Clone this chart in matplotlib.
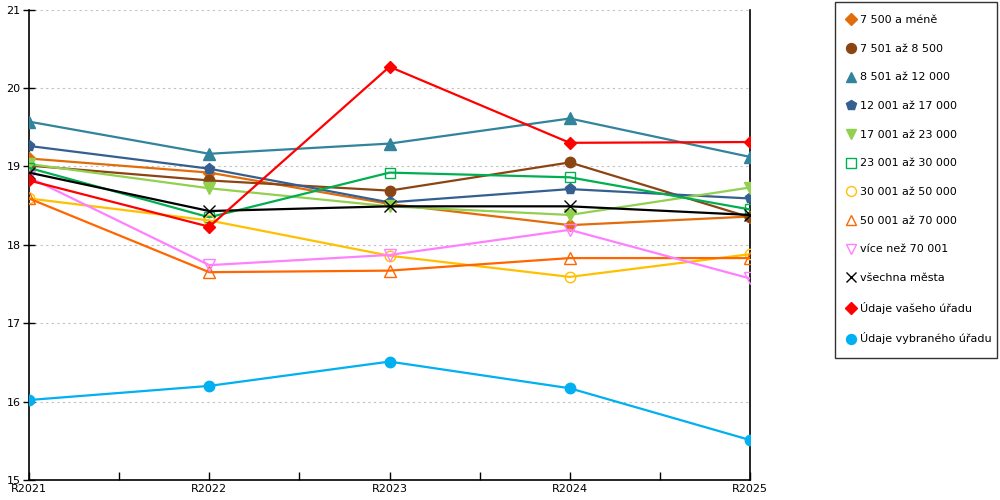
import matplotlib
matplotlib.use("Agg")
import matplotlib.pyplot as plt
from matplotlib.lines import Line2D
from matplotlib.ticker import MultipleLocator

years = ["R2021", "R2022", "R2023", "R2024", "R2025"]

labels = ["7 500 a méně", "7 501 až 8 500", "8 501 až 12 000", "12 001 až 17 000",
          "17 001 až 23 000", "23 001 až 30 000", "30 001 až 50 000", "50 001 až 70 000",
          "více než 70 001", "všechna města", "Údaje vašeho úřadu", "Údaje vybraného úřadu"]

s_7500 = [19.10, 18.92, 18.52, 18.25, 18.36]
s_8500 = [19.01, 18.82, 18.69, 19.05, 18.35]
s_12000 = [19.57, 19.16, 19.29, 19.61, 19.12]
s_17000 = [19.26, 18.97, 18.54, 18.71, 18.59]
s_23000 = [19.03, 18.72, 18.49, 18.38, 18.73]
s_30000 = [18.98, 18.35, 18.92, 18.86, 18.45]
s_50000 = [18.59, 18.31, 17.86, 17.59, 17.88]
s_70000 = [18.59, 17.65, 17.67, 17.83, 17.83]
s_over = [18.86, 17.74, 17.87, 18.19, 17.57]
s_all = [18.92, 18.43, 18.49, 18.49, 18.38]
s_yours = [18.82, 18.23, 20.27, 19.30, 19.31]
s_chosen = [16.02, 16.20, 16.51, 16.17, 15.51]

series = [s_7500, s_8500, s_12000, s_17000, s_23000, s_30000,
          s_50000, s_70000, s_over, s_all, s_yours, s_chosen]

# colour, marker, filled
styles = [
    ("#e36c0a", "D", True),
    ("#8b4513", "o", True),
    ("#31849b", "^", True),
    ("#365f91", "p", True),
    ("#92d050", "v", True),
    ("#00b050", "s", False),
    ("#ffc000", "o", False),
    ("#ff6600", "^", False),
    ("#ff80ff", "v", False),
    ("#000000", "x", True),
    ("#ff0000", "D", True),
    ("#00b0f0", "o", True),
]

plt.rcParams["font.family"] = ["DejaVu Sans"]
fig = plt.figure(figsize=(10, 5), dpi=100)
ax = fig.add_axes([0.029, 0.04, 0.721, 0.941])

x = list(range(len(years)))
handles = []
for vals, lab, (col, mk, filled) in zip(series, labels, styles):
    ms = {"D": 6, "o": 7.5, "x": 8, "s": 7.5}.get(mk, 8)
    fc = col if filled else "none"
    ax.plot(x, vals, color=col, lw=1.6, marker=mk, ms=ms, mfc=fc, mec=col,
            mew=1.0, zorder=3)
    handles.append(Line2D([], [], ls="none", marker=mk, ms=ms * 0.95, mfc=fc, mec=col,
                          color=col, mew=1.0, label=lab))

ax.set_xlim(0, 4)
ax.set_ylim(15, 21)
ax.yaxis.set_major_locator(MultipleLocator(1))
ax.set_xticks(x)
ax.set_xticklabels(years, fontsize=8)
ax.set_xticks([0.5, 1.5, 2.5, 3.5], minor=True)
ax.tick_params(axis="x", which="both", direction="in", length=6, width=1, pad=3)
ax.tick_params(axis="y", direction="inout", length=8, width=1, labelsize=8, pad=2)

for v in range(16, 22):
    ax.axhline(v, color="#c0c0c0", ls=(0, (2, 3)), lw=0.8, zorder=1)

ax.spines["top"].set_visible(False)
for side in ("left", "right", "bottom"):
    ax.spines[side].set_linewidth(1.2)
    ax.spines[side].set_color("black")

leg = fig.legend(handles=handles, loc="upper left",
                 bbox_to_anchor=(0.835, 0.0, 0.162, 0.996), mode="expand",
                 frameon=True, fancybox=False, fontsize=8, labelspacing=1.68,
                 handlelength=0.6, handletextpad=0.5, borderpad=1.18,
                 borderaxespad=0)
leg.get_frame().set_edgecolor("black")
leg.get_frame().set_linewidth(1.0)

fig.savefig("out.png")
